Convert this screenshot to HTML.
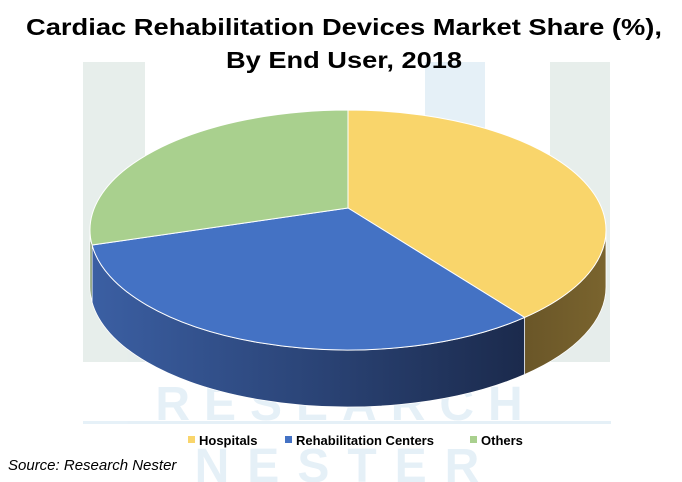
<!DOCTYPE html>
<html><head><meta charset="utf-8"><style>
html,body{margin:0;padding:0;background:#fff;}
svg{display:block;font-family:"Liberation Sans",sans-serif;}
</style></head><body>
<svg id="c" width="682" height="482" viewBox="0 0 682 482">
<defs>
<linearGradient id="gBlue" x1="0" x2="1" y1="0" y2="0"><stop offset="0" stop-color="#3b5fa3"/><stop offset="1" stop-color="#1b2a4c"/></linearGradient>
<linearGradient id="gYel" x1="0" x2="1" y1="0" y2="0"><stop offset="0" stop-color="#6a5628"/><stop offset="1" stop-color="#7a642e"/></linearGradient>
<linearGradient id="gGrn" x1="0" x2="1" y1="0" y2="0"><stop offset="0" stop-color="#6e8a5a"/><stop offset="1" stop-color="#55703f"/></linearGradient>
</defs>
<g opacity="0.9">
<rect x="83" y="62" width="62" height="300" fill="#e4ece9"/>
<rect x="425" y="62" width="60" height="300" fill="#e2eef6"/>
<rect x="550" y="62" width="60" height="300" fill="#e4ece9"/>
<text x="346" y="420" text-anchor="middle" font-size="48" font-weight="bold" fill="#e3eff7" letter-spacing="14">RESEARCH</text>
<rect x="83" y="421" width="528" height="3" fill="#e3eff7"/>
<text x="346" y="482" text-anchor="middle" font-size="48" font-weight="bold" fill="#e3eff7" letter-spacing="18">NESTER</text>
</g>
<text x="344" y="35" text-anchor="middle" font-size="23" font-weight="bold" fill="#000" textLength="636" lengthAdjust="spacingAndGlyphs">Cardiac Rehabilitation Devices Market Share (%),</text>
<text x="344" y="68" text-anchor="middle" font-size="23" font-weight="bold" fill="#000" textLength="236" lengthAdjust="spacingAndGlyphs">By End User, 2018</text>
<g id="pie"></g>
<g font-size="13" font-weight="bold" fill="#000">
<rect x="188" y="436" width="7" height="7" fill="#f9d56b"/>
<text x="199" y="445">Hospitals</text>
<rect x="285" y="436" width="7" height="7" fill="#4472c4"/>
<text x="296" y="445">Rehabilitation Centers</text>
<rect x="470" y="436" width="7" height="7" fill="#a9d08e"/>
<text x="481" y="445">Others</text>
</g>
<text x="8" y="470" font-size="15" font-style="italic" fill="#000">Source: Research Nester</text>
</svg>
<script>
const categories = ["Hospitals", "Rehabilitation Centers", "Others"];
const shares = [38, 35, 27];
const topColors = ["#f9d56b", "#4472c4", "#a9d08e"];
const sideFills = ["url(#gYel)", "url(#gBlue)", "url(#gGrn)"];

const NS = "http://www.w3.org/2000/svg";
const g = document.getElementById("pie");
const cx = 348, cy = 230, rx = 258, ry = 120, depth = 57, vx = 348, vy = 208;
const total = shares.reduce((a, b) => a + b, 0);
function pt(a, dy) { return [cx + rx * Math.cos(a), cy + ry * Math.sin(a) + (dy || 0)]; }
function slug(s) { return s.toLowerCase().replace(/\s+/g, '-'); }
let start = -Math.PI / 2;
const arcs = [];
shares.forEach((v, i) => {
  const end = start + v / total * 2 * Math.PI;
  arcs.push([start, end]);
  start = end;
});
// sides (visible range: angles within [0, PI] mod 2PI)
arcs.forEach(([a0, a1], i) => {
  const segs = [];
  for (let k = -1; k <= 1; k++) {
    const lo = Math.max(a0, k * 2 * Math.PI), hi = Math.min(a1, k * 2 * Math.PI + Math.PI);
    if (hi > lo) segs.push([lo, hi]);
  }
  segs.forEach(([lo, hi]) => {
    const p0 = pt(lo), p1 = pt(hi), q1 = pt(hi, depth), q0 = pt(lo, depth);
    const large = (hi - lo) > Math.PI ? 1 : 0;
    const d = `M${p0} A${rx},${ry} 0 ${large} 1 ${p1} L${q1} A${rx},${ry} 0 ${large} 0 ${q0} Z`;
    const path = document.createElementNS(NS, "path");
    path.setAttribute("d", d);
    path.setAttribute("fill", sideFills[i]);
    path.setAttribute("stroke", "#ffffff");
    path.setAttribute("stroke-width", "0.8");
    
    
    g.appendChild(path);
  });
});
// tops
arcs.forEach(([a0, a1], i) => {
  const p0 = pt(a0), p1 = pt(a1);
  const large = (a1 - a0) > Math.PI ? 1 : 0;
  const d = `M${vx},${vy} L${p0} A${rx},${ry} 0 ${large} 1 ${p1} Z`;
  const path = document.createElementNS(NS, "path");
  path.setAttribute("d", d);
  path.setAttribute("fill", topColors[i]);
  path.setAttribute("stroke", "#ffffff");
  path.setAttribute("stroke-width", "1");
  
  
  g.appendChild(path);
});
</script>
</body></html>
